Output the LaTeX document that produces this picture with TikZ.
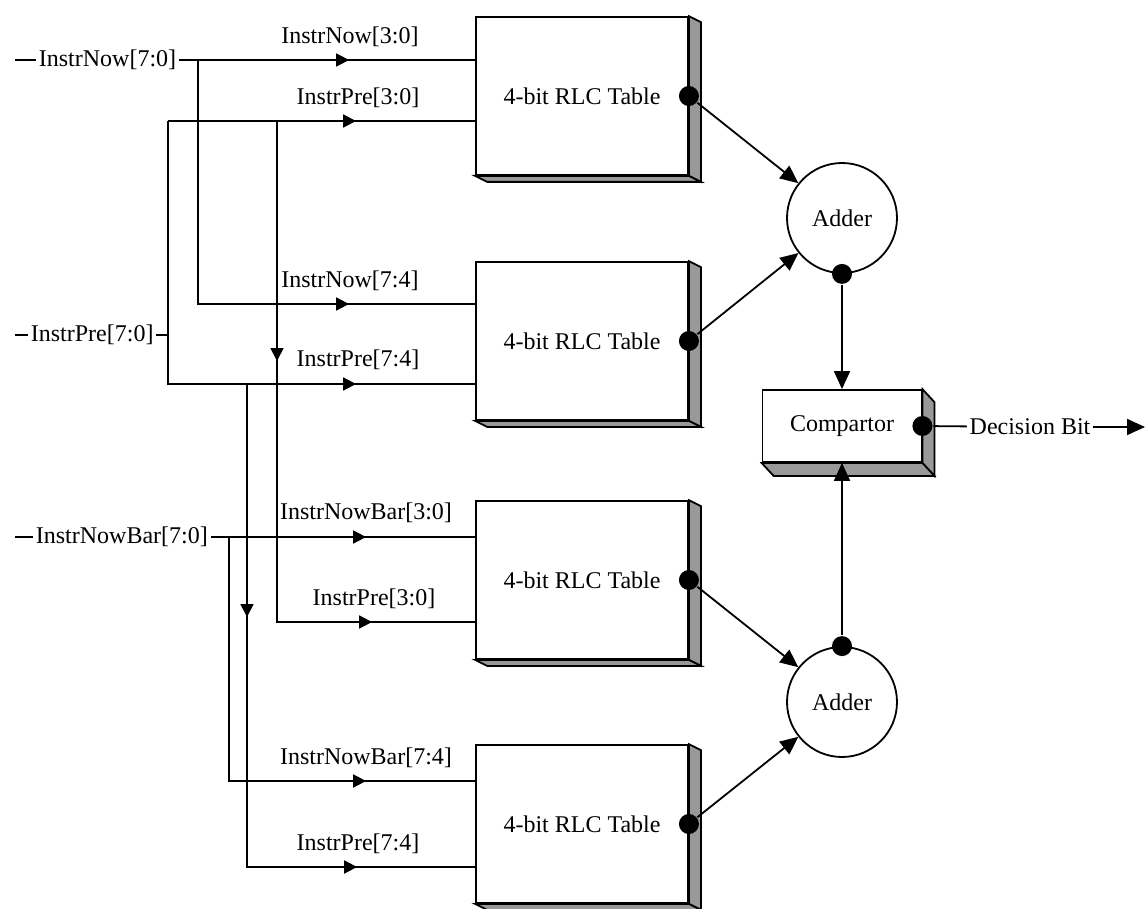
\documentclass[tikz,border=0pt]{standalone}
\usepackage{fontspec}
\setmainfont{Liberation Serif}
\usetikzlibrary{positioning,arrows.meta,decorations.markings}

\tikzset{
  rlc/.style={draw, fill=white, minimum width=106pt, minimum height=79pt, inner sep=0pt},
  adder/.style={draw, circle, minimum size=55pt, inner sep=0pt},
  cmpbox/.style={draw, fill=white, minimum width=79.5pt, minimum height=36pt, inner sep=0pt},
  bdot/.style={circle, fill=black, minimum size=10pt, inner sep=0pt},
  side/.style={fill=black!40, draw=black},
  wtip/.tip={Triangle[length=6.5pt,width=6.5pt]},
  btip/.tip={Triangle[length=9pt,width=8pt]},
  arr/.style={postaction={decorate, decoration={markings, mark=at position #1 with {\arrow{wtip}}}}},
  inlbl/.style={anchor=west, inner xsep=1pt},
}

\begin{document}
\begin{tikzpicture}[x=0.5pt, y=-0.5pt, line width=0.9pt, font=\fontsize{12}{14}\selectfont]
	\useasboundingbox (0,0) rectangle (1146,909);
	
	% 1. 四个 RLC 表
	\node[rlc] (t1) at (582,96)  {4-bit RLC Table};
	\node[rlc] (t2) at (582,341) {4-bit RLC Table};
	\node[rlc] (t3) at (582,580) {4-bit RLC Table};
	\node[rlc] (t4) at (582,824) {4-bit RLC Table};
	
	% 立体侧面和输出点
	\foreach \t in {t1,t2,t3,t4}{
		\filldraw[side] (\t.north east) -- ++(12,6) -- ([shift={(12,6)}]\t.south east) -- (\t.south east) -- cycle;
		\filldraw[side] (\t.south west) -- ++(12,6) -- ([shift={(12,6)}]\t.south east) -- (\t.south east) -- cycle;
		\node[bdot] (d\t) at (\t.east) {};
	}
	
	% 2. 加法器和比较器
	\node[adder] (add1) at (842,218) {Adder};
	\node[adder] (add2) at (842,702) {Adder};
	\node[cmpbox] (cmp) at (842,426) {Compartor};
	\filldraw[side] (cmp.north east) -- ++(12,13) -- ([shift={(12,13)}]cmp.south east) -- (cmp.south east) -- cycle;
	\filldraw[side] (cmp.south west) -- ++(12,13) -- ([shift={(12,13)}]cmp.south east) -- (cmp.south east) -- cycle;
	\node[bdot] (da1) at (add1.south) {};
	\node[bdot] (da2) at (add2.north) {};
	\node[bdot] (dc) at (cmp.east) {};
	
	\draw[-btip] (dt1) -- (add1);
	\draw[-btip] (dt2) -- (add1);
	\draw[-btip] (dt3) -- (add2);
	\draw[-btip] (dt4) -- (add2);
	\draw[-btip] (da1) -- (cmp);
	\draw[-btip] (da2) -- (cmp);
	
	% 输出
	\node[inner xsep=1pt] (dec) at (1030,427) {Decision Bit};
	\coordinate (out) at (1145,427);
	\draw (dc) -- (dec);
	\draw[-btip] (dec) -- (out);
	
	% 3. 输入信号
	\node[inlbl] (now) at (36,60)  {InstrNow[7:0]};
	\node[inlbl] (pre) at (28,335) {InstrPre[7:0]};
	\node[inlbl] (bar) at (33,537) {InstrNowBar[7:0]};
	\coordinate (nowl) at (15,60);
	\coordinate (prel) at (15,335);
	\coordinate (barl) at (15,537);
	\draw (nowl) -- (now);
	\draw (prel) -- (pre);
	\draw (barl) -- (bar);
	
	% InstrNow 分支
	\coordinate (n0) at (198,60);
	\coordinate (n1) at (198,304);
	\draw[arr=-63pt] (now) -- (t1.west |- now);
	\draw[arr=-63pt] (n0) -- (n1) -- (t2.west |- n1);
	
	% InstrPre 分支
	\coordinate (p0) at (168,121);
	\coordinate (p1) at (168,384);
	\coordinate (p2) at (277,121);
	\coordinate (p3) at (277,622);
	\coordinate (p4) at (247,384);
	\coordinate (p5) at (247,867);
	\draw (pre) -- (pre -| p0);
	\draw[arr=-59.5pt] (p0) -- (t1.west |- p0);
	\draw[arr=-59.5pt] (p0) -- (p1) -- (t2.west |- p1);
	\draw[arr=120pt, arr=-51.5pt] (p2) -- (p3) -- (t3.west |- p3);
	\draw[arr=116.5pt, arr=-59pt] (p4) -- (p5) -- (t4.west |- p5);
	
	% InstrNowBar 分支
	\coordinate (b0) at (229,537);
	\coordinate (b1) at (229,781);
	\draw[arr=-54.5pt] (bar) -- (t3.west |- bar);
	\draw[arr=-54.5pt] (b0) -- (b1) -- (t4.west |- b1);
	
	% 4. 线上的标签
	\node (l1) at (350,37)  {InstrNow[3:0]};
	\node (l2) at (358,98)  {InstrPre[3:0]};
	\node (l3) at (350,281) {InstrNow[7:4]};
	\node (l4) at (358,360) {InstrPre[7:4]};
	\node (l5) at (366,513) {InstrNowBar[3:0]};
	\node (l6) at (374,599) {InstrPre[3:0]};
	\node (l7) at (366,758) {InstrNowBar[7:4]};
	\node (l8) at (358,844) {InstrPre[7:4]};
\end{tikzpicture}
\end{document}
